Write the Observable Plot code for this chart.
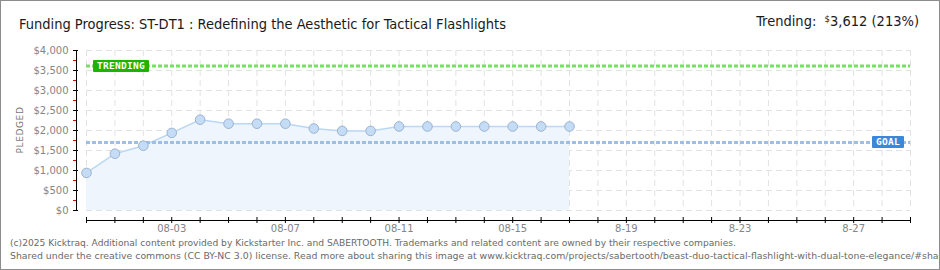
<!DOCTYPE html>
<html>
<head>
<meta charset="utf-8">
<script src="https://cdn.jsdelivr.net/npm/d3@7"></script>
<script src="https://cdn.jsdelivr.net/npm/@observablehq/plot@0.6"></script>
<style>
  html, body { margin: 0; padding: 0; background: #fff; }
  #wrap { position: relative; width: 940px; height: 270px; overflow: hidden; background: #fff; }
  #frame { position: absolute; left: 0; top: 0; width: 940px; height: 270px; box-sizing: border-box; border: 1px solid #8c8c8c; pointer-events: none; }
  #chart { position: absolute; left: 0; top: 0; }
  .abs { position: absolute; white-space: nowrap; }
  #title { left: 19px; top: 17px; font: 14.5px "DejaVu Sans Condensed", "Liberation Sans Narrow", sans-serif; color: #1a1a1a; line-height: 1; }
  #trend { right: 21px; top: 14px; font: 14.5px "DejaVu Sans Condensed", "Liberation Sans Narrow", sans-serif; color: #1a1a1a; line-height: 1; }
  #trend .cur { font-size: 9.5px; vertical-align: 4px; }
  #ylab { left: 19.5px; top: 130px; transform: translate(-50%, -50%) rotate(-90deg); font: 9px "DejaVu Sans", sans-serif; color: #777; letter-spacing: 0.6px; line-height: 1; }
  .foot { left: 10px; font: 9.15px "DejaVu Sans", sans-serif; color: #6a6a6a; line-height: 1; }
  .tag { position: absolute; font: bold 9.5px "DejaVu Sans Mono", monospace; color: #fff; line-height: 12px; height: 12px; text-align: center; border-radius: 1px; letter-spacing: 0.3px; }
</style>
</head>
<body>
<div id="wrap">
  <div id="chart"></div>
  <div id="title" class="abs"></div>
  <div id="trend" class="abs"></div>
  <div id="ylab" class="abs">PLEDGED</div>
  <div id="foot1" class="abs foot" style="top:239px"></div>
  <div id="foot2" class="abs foot" style="top:251px; font-size:9.35px"></div>
  <div id="frame"></div>
</div>
<script>
// ---- data ----
const titleText = "Funding Progress: ST-DT1 : Redefining the Aesthetic for Tactical Flashlights";
const trendingValue = 3612;
const trendingPct = "213%";
const goalValue = 1700;
const days = ["2025-07-31","2025-08-01","2025-08-02","2025-08-03","2025-08-04","2025-08-05","2025-08-06","2025-08-07","2025-08-08","2025-08-09","2025-08-10","2025-08-11","2025-08-12","2025-08-13","2025-08-14","2025-08-15","2025-08-16","2025-08-17"];
const pledged = [940, 1420, 1620, 1940, 2270, 2170, 2170, 2170, 2050, 1990, 1990, 2100, 2100, 2100, 2100, 2100, 2100, 2100];
const xDomain = ["2025-07-31", "2025-08-29"];
const xLabelDates = ["2025-08-03", "2025-08-07", "2025-08-11", "2025-08-15", "2025-08-19", "2025-08-23", "2025-08-27"];
const xLabelTexts = ["08-03", "08-07", "08-11", "08-15", "8-19", "8-23", "8-27"];
const yMajor = [0, 500, 1000, 1500, 2000, 2500, 3000, 3500, 4000];
const yMinor = [250, 750, 1250, 1750, 2250, 2750, 3250, 3750];
const footer1 = "(c)2025 Kicktraq. Additional content provided by Kickstarter Inc. and SABERTOOTH. Trademarks and related content are owned by their respective companies.";
const footer2 = "Shared under the creative commons (CC BY-NC 3.0) license. Read more about sharing this image at www.kicktraq.com/projects/sabertooth/beast-duo-tactical-flashlight-with-dual-tone-elegance/#share";

// ---- build ----
const P = d => new Date(d + "T00:00:00Z");
const data = days.map((d, i) => ({date: P(d), value: pledged[i]}));
const x0 = P(xDomain[0]), x1 = P(xDomain[1]);
const allDays = d3.utcDay.range(x0, d3.utcDay.offset(x1, 1));
const labelDates = xLabelDates.map(P);
const fmt = d => "$" + d3.format(",")(d);

const chart = Plot.plot({
  width: 940, height: 270,
  marginLeft: 86, marginRight: 30, marginTop: 50, marginBottom: 60,
  style: {fontFamily: "DejaVu Sans, sans-serif", fontSize: "10px", background: "transparent", overflow: "visible"},
  x: {type: "utc", domain: [x0, x1], axis: null, label: null},
  y: {domain: [0, 4000], axis: null, label: null},
  marks: [
    Plot.ruleX(allDays, {stroke: "#e2e2e2", strokeDasharray: "6,4"}),
    Plot.ruleY(yMajor, {stroke: "#e2e2e2", strokeDasharray: "6,4"}),
    Plot.areaY(data, {x: "date", y: "value", fill: "#eef5fd"}),
    Plot.lineY(data, {x: "date", y: "value", stroke: "#bcd7f3", strokeWidth: 1.5}),
    Plot.ruleY([goalValue], {stroke: "#9dbfe6", strokeWidth: 3, strokeDasharray: "4,2"}),
    Plot.ruleY([trendingValue], {stroke: "#78de66", strokeWidth: 3, strokeDasharray: "4,2"}),
    Plot.dot(data, {x: "date", y: "value", r: 4.8, fill: "#c5dcf6", stroke: "#9cb3cf", strokeWidth: 1}),
    // y axis
    Plot.ruleX([x0], {y1: 0, y2: 4000, dx: -10, stroke: "#000"}),
    Plot.axisY({ticks: yMajor, tickSize: 5, dx: -8, tickFormat: () => "", stroke: "#000", label: null}),
    Plot.axisY({ticks: yMinor, tickSize: 3, dx: -10, tickFormat: () => "", stroke: "#e00000", label: null}),
    Plot.axisY({ticks: yMajor, tickSize: 0, tickPadding: 0, dx: -18, tickFormat: fmt, color: "#858585", label: null}),
    // x axis
    Plot.ruleY([0], {dy: 10, stroke: "#000"}),
    Plot.axisX({ticks: allDays, tickSize: 6, dy: 7, tickFormat: () => "", stroke: "#000", label: null}),
    Plot.text(labelDates, {x: d => d, y: () => 0, text: (d, i) => xLabelTexts[i], dy: 18, fill: "#858585"})
  ]
});
document.getElementById("chart").appendChild(chart);

document.getElementById("title").textContent = titleText;
document.getElementById("trend").innerHTML = 'Trending:&nbsp; <span class="cur">$</span>' + d3.format(",")(trendingValue) + ' (' + trendingPct + ')';
document.getElementById("foot1").textContent = footer1;
document.getElementById("foot2").textContent = footer2;

// value tags positioned with the plot's scales
const sx = chart.scale("x"), sy = chart.scale("y");
const wrap = document.getElementById("wrap");
function tag(text, bg, left, yVal, width) {
  const el = document.createElement("div");
  el.className = "tag";
  el.textContent = text;
  el.style.background = bg;
  el.style.left = left + "px";
  el.style.width = width + "px";
  el.style.top = (sy.apply(yVal) - 6) + "px";
  wrap.insertBefore(el, document.getElementById("frame"));
}
tag("TRENDING", "#1db300", sx.apply(x0) + 7, trendingValue, 56);
tag("GOAL", "#3b88d8", sx.apply(x1) - 38, goalValue, 32);
</script>
</body>
</html>
